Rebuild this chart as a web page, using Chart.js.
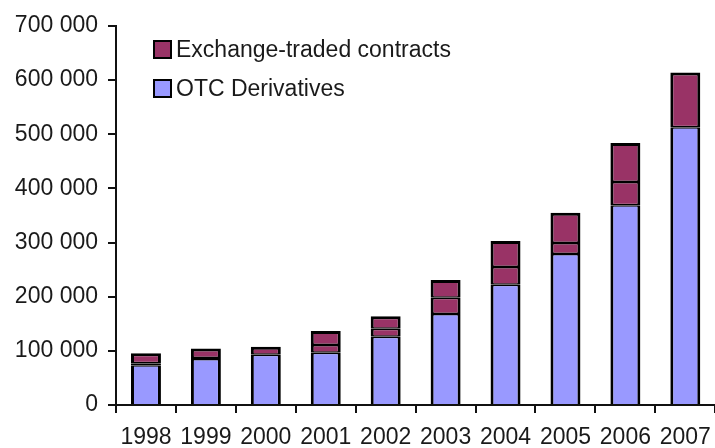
<!DOCTYPE html>
<html>
<head>
<meta charset="utf-8">
<script src="https://cdn.jsdelivr.net/npm/chart.js@4"></script>
<style>
  html, body { margin: 0; padding: 0; background: #fff; overflow: hidden; }
  #wrap { width: 715px; height: 448px; overflow: hidden; position: relative; }
  canvas { display: block; }
</style>
</head>
<body>
<div id="wrap"><canvas id="c" width="722" height="448" style="width:722px;height:448px"></canvas></div>
<script>
// Data
const years = ['1998','1999','2000','2001','2002','2003','2004','2005','2006','2007'];
const otcDerivatives = [73500, 85000, 93000, 96500, 126000, 168000, 222000, 279000, 369000, 513000];
const exchangeLower = [3700, 2000, null, 14500, 15000, 30000, 33000, 20000, 43000, null];
const exchangeUpper = [18300, 17500, 14700, 25500, 23000, 33000, 48000, 56000, 72000, 101000];
const yTicks = [0, 100000, 200000, 300000, 400000, 500000, 600000, 700000];
const legendLabels = ['Exchange-traded contracts', 'OTC Derivatives'];

const BLUE = '#9999ff';
const MAROON = '#993366';
const FONT = '"Liberation Sans", Arial, sans-serif';

const legendPlugin = {
  id: 'insideLegend',
  afterDraw(chart) {
    const ctx = chart.ctx;
    const items = [
      { text: legendLabels[0], color: MAROON },
      { text: legendLabels[1], color: BLUE }
    ];
    ctx.save();
    ctx.font = '23px ' + FONT;
    ctx.textBaseline = 'middle';
    ctx.textAlign = 'left';
    items.forEach((it, i) => {
      const bx = 154, by = 41 + i * 39, s = 17;
      ctx.fillStyle = it.color;
      ctx.fillRect(bx, by, s, s);
      ctx.lineWidth = 2;
      ctx.strokeStyle = '#000';
      ctx.strokeRect(bx, by, s, s);
      ctx.fillStyle = '#1a1a1a';
      ctx.fillText(it.text, 176, by + s / 2 + 1);
    });
    ctx.restore();
  }
};

const common = { borderColor: '#000', borderSkipped: false, barPercentage: 0.5, categoryPercentage: 1.0, stack: 's' };

new Chart(document.getElementById('c'), {
  type: 'bar',
  data: {
    labels: years,
    datasets: [
      Object.assign({ label: legendLabels[1], data: otcDerivatives, backgroundColor: BLUE,
        borderWidth: { top: 1.5, bottom: 0, left: 3, right: 3 } }, common),
      Object.assign({ label: legendLabels[0], data: exchangeLower, backgroundColor: MAROON,
        borderWidth: { top: 1.5, bottom: 1.5, left: 3, right: 3 } }, common),
      Object.assign({ label: legendLabels[0] + ' ', data: exchangeUpper, backgroundColor: MAROON,
        borderWidth: { top: 3, bottom: 1.5, left: 3, right: 3 } }, common)
    ]
  },
  options: {
    responsive: false,
    animation: false,
    devicePixelRatio: 1,
    layout: { padding: { top: 26, right: 2, left: 0, bottom: 0 } },
    plugins: { legend: { display: false }, tooltip: { enabled: false } },
    scales: {
      x: {
        stacked: true,
        offset: true,
        grid: { offset: true, drawOnChartArea: false, tickLength: 8, color: '#111', lineWidth: 2 },
        border: { color: '#111', width: 2 },
        ticks: { color: '#1a1a1a', font: { family: FONT, size: 23 }, padding: 11, maxRotation: 0, autoSkip: false },
        afterFit(scale) { scale.height = 43; }
      },
      y: {
        stacked: true,
        min: yTicks[0],
        max: yTicks[yTicks.length - 1],
        grid: { drawOnChartArea: false, tickLength: 8, color: '#111', lineWidth: 2 },
        border: { color: '#111', width: 2 },
        afterBuildTicks(scale) { scale.ticks = yTicks.map(v => ({ value: v })); },
        ticks: {
          color: '#1a1a1a', font: { family: FONT, size: 23 }, padding: 10,
          callback: v => String(v).replace(/\B(?=(\d{3})+(?!\d))/g, ' ')
        },
        afterFit(scale) { scale.width = 116; }
      }
    }
  },
  plugins: [legendPlugin]
});
</script>
</body>
</html>
